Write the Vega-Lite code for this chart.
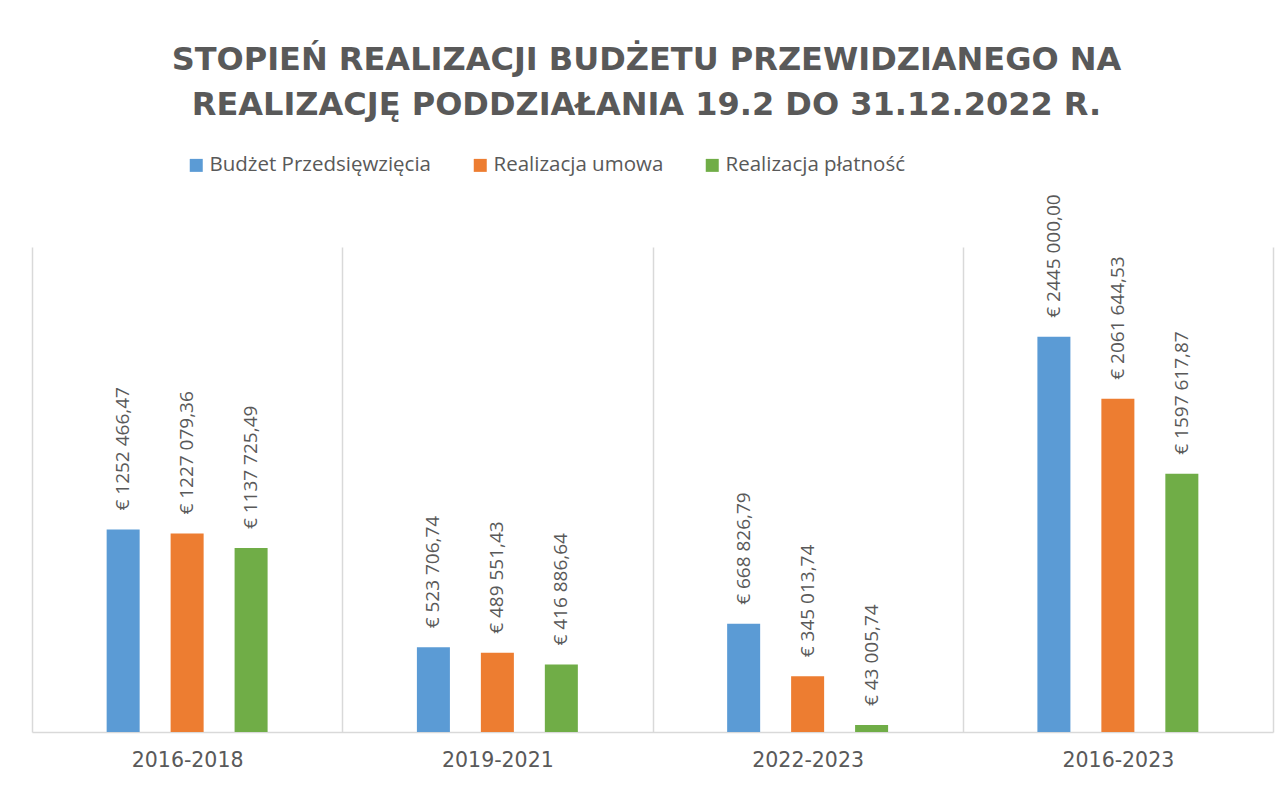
{
  "$schema": "https://vega.github.io/schema/vega-lite/v6.json",
  "width": 1241,
  "height": 485,
  "autosize": {"type": "none"},
  "padding": {"top": 247, "left": 32, "right": 8, "bottom": 58},
  "background": "white",
  "title": {
    "text": ["STOPIEŃ REALIZACJI BUDŻETU PRZEWIDZIANEGO NA", "REALIZACJĘ PODDZIAŁANIA 19.2 DO 31.12.2022 R."],
    "font": "DejaVu Sans",
    "fontSize": 32,
    "fontWeight": "bold",
    "color": "#595959",
    "anchor": "middle",
    "lineHeight": 45,
    "offset": 33,
    "dx": -6
  },
  "data": {
    "values": [
      {"period": "2016-2018", "series": "Budżet Przedsięwzięcia", "value": 1252466.47, "label": "€ 1252 466,47"},
      {"period": "2016-2018", "series": "Realizacja umowa", "value": 1227079.36, "label": "€ 1227 079,36"},
      {"period": "2016-2018", "series": "Realizacja płatność", "value": 1137725.49, "label": "€ 1137 725,49"},
      {"period": "2019-2021", "series": "Budżet Przedsięwzięcia", "value": 523706.74, "label": "€ 523 706,74"},
      {"period": "2019-2021", "series": "Realizacja umowa", "value": 489551.43, "label": "€ 489 551,43"},
      {"period": "2019-2021", "series": "Realizacja płatność", "value": 416886.64, "label": "€ 416 886,64"},
      {"period": "2022-2023", "series": "Budżet Przedsięwzięcia", "value": 668826.79, "label": "€ 668 826,79"},
      {"period": "2022-2023", "series": "Realizacja umowa", "value": 345013.74, "label": "€ 345 013,74"},
      {"period": "2022-2023", "series": "Realizacja płatność", "value": 43005.74, "label": "€ 43 005,74"},
      {"period": "2016-2023", "series": "Budżet Przedsięwzięcia", "value": 2445000.00, "label": "€ 2445 000,00"},
      {"period": "2016-2023", "series": "Realizacja umowa", "value": 2061644.53, "label": "€ 2061 644,53"},
      {"period": "2016-2023", "series": "Realizacja płatność", "value": 1597617.87, "label": "€ 1597 617,87"}
    ]
  },
  "encoding": {
    "x": {
      "field": "period",
      "type": "nominal",
      "sort": ["2016-2018", "2019-2021", "2022-2023", "2016-2023"],
      "scale": {"paddingInner": 0, "paddingOuter": 0},
      "axis": {
        "title": null,
        "labelAngle": 0,
        "grid": true,
        "gridColor": "#d9d9d9",
        "gridWidth": 1.5,
        "tickBand": "extent",
        "ticks": false,
        "domainColor": "#d9d9d9",
        "domainWidth": 1.5,
        "labelFont": "DejaVu Sans",
        "labelFontSize": 20.5,
        "labelColor": "#595959",
        "labelPadding": 18
      }
    },
    "xOffset": {
      "field": "series",
      "type": "nominal",
      "scale": {
        "domain": ["_lead", "Budżet Przedsięwzięcia", "Realizacja umowa", "Realizacja płatność", "_trail"],
        "paddingInner": 0.484,
        "paddingOuter": 0.167
      }
    },
    "y": {
      "field": "value",
      "type": "quantitative",
      "scale": {"domain": [0, 3000000], "nice": false},
      "axis": null
    }
  },
  "layer": [
    {
      "mark": {"type": "bar"},
      "encoding": {
        "color": {
          "field": "series",
          "type": "nominal",
          "sort": ["Budżet Przedsięwzięcia", "Realizacja umowa", "Realizacja płatność"],
          "scale": {
            "domain": ["Budżet Przedsięwzięcia", "Realizacja umowa", "Realizacja płatność"],
            "range": ["#5b9bd5", "#ed7d31", "#70ad47"]
          },
          "legend": {
            "title": null,
            "orient": "none",
            "direction": "horizontal",
            "legendX": 154,
            "legendY": -92,
            "symbolType": "square",
            "symbolSize": 169,
            "symbolStrokeWidth": 0,
            "labelFont": "Open Sans",
            "labelFontSize": 20.5,
            "labelColor": "#595959",
            "labelOffset": 3,
            "columnPadding": 38,
            "labelLimit": 400
          }
        }
      }
    },
    {
      "mark": {
        "type": "text",
        "angle": 270,
        "align": "left",
        "baseline": "middle",
        "dx": 19,
        "font": "Open Sans",
        "fontSize": 19,
        "color": "#595959"
      },
      "encoding": {
        "text": {"field": "label", "type": "nominal"}
      }
    }
  ],
  "config": {
    "view": {"stroke": null}
  }
}
